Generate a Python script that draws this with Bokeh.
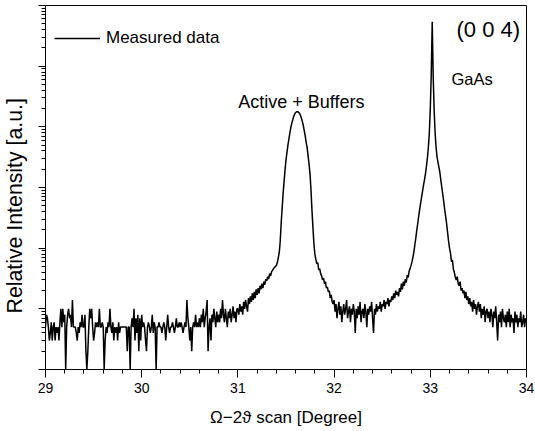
from bokeh.plotting import figure
from bokeh.models import Range1d, FixedTicker, SingleIntervalTicker, Label, CustomJSTickFormatter, Title
from bokeh.embed import file_html
from bokeh.resources import INLINE
import numpy as np

# ---- data: omega-2theta scan, 0.01 degree steps, intensities ----
step = 0.01

start_a = 29.00   # 29.00 .. 30.99  background
counts_a = [
    5, 8, 7, 5, 3, 4, 6, 3, 5, 6,
    3, 5, 4, 5, 3, 6, 10, 5, 10, 6,
    8, 1, 5, 8, 10, 7, 8, 5, 14, 5,
    5, 5, 4, 3, 5, 4, 6, 5, 8, 5,
    5, 8, 2, 1, 2, 5, 10, 7, 10, 5,
    3, 4, 6, 5, 6, 5, 10, 5, 5, 6,
    5, 1, 3, 5, 4, 6, 5, 10, 5, 4,
    6, 3, 5, 4, 5, 3, 6, 4, 5, 5,
    5, 5, 5, 5, 5, 2, 5, 5, 1, 5,
    7, 5, 10, 3, 7, 4, 8, 2, 7, 3,
    8, 5, 6, 5, 3, 2, 5, 6, 5, 4,
    5, 8, 4, 6, 5, 1, 5, 5, 6, 5,
    5, 4, 5, 6, 5, 3, 5, 8, 5, 4,
    5, 5, 6, 5, 4, 5, 7, 5, 5, 6,
    5, 6, 5, 4, 5, 6, 5, 14, 7, 5,
    3, 5, 2, 5, 6, 5, 8, 5, 6, 5,
    7, 5, 8, 6, 10, 5, 7, 9, 14, 2,
    5, 7, 3, 8, 6, 10, 7, 5, 9, 6,
    8, 6, 10, 7, 14, 8, 6, 10, 7, 5,
    9, 7, 10, 6, 8, 11, 7, 9, 6, 10,
]

start_b = 31.00   # 31.00 .. 32.00  active layers + buffers peak
counts_b = [
    10, 8, 12, 9, 11, 8, 13, 10, 14, 11,
    9, 15, 12, 16, 13, 18, 14, 19, 15, 21,
    17, 22, 18, 24, 21, 26, 22, 28, 25, 31,
    29, 34, 31, 38, 35, 41, 43, 46, 48, 50,
    52, 58, 70, 85, 130, 260, 460, 800, 1250, 1950,
    2850, 3800, 5000, 6300, 7900, 9700, 11400, 13000, 14800, 16200,
    17100, 17700, 17750, 17400, 16700, 15500, 14000, 12200, 10500, 8600,
    7000, 5500, 4500, 3300, 2400, 1650, 900, 420, 220, 120,
    80, 66, 55, 58, 44, 46, 38, 35, 30, 32,
    26, 28, 22, 23, 19, 20, 15, 17, 13, 12,
    14,
]

start_c = 32.01   # 32.01 .. 32.79  between the peaks
counts_c = [
    9, 12, 7, 10, 13, 8, 11, 6, 9, 12,
    8, 10, 14, 7, 9, 11, 6, 10, 8, 12,
    9, 4, 10, 7, 11, 8, 13, 6, 9, 10,
    7, 12, 9, 5, 10, 8, 11, 9, 13, 7,
    4, 10, 8, 12, 9, 11, 10, 13, 9, 12,
    11, 14, 10, 13, 12, 15, 11, 14, 13, 16,
    14, 18, 15, 20, 17, 19, 16, 22, 19, 26,
    21, 28, 24, 31, 27, 36, 33, 42, 46,
]

start_d = 32.80   # 32.80 .. 33.40  GaAs substrate peak
counts_d = [
    52, 60, 72, 88, 115, 150, 200, 260, 340, 440,
    560, 700, 880, 1100, 1350, 1700, 2250, 3100, 4600, 8000,
    20000, 75000, 540000, 70000, 19000, 8000, 4600, 3200, 2600, 2150,
    1750, 1300, 1000, 760, 580, 430, 330, 250, 180, 130,
    100, 83, 60, 64, 45, 40, 33, 30, 34, 26,
    24, 28, 20, 22, 18, 20, 15, 19, 14, 16,
    12,
]

start_e = 33.41   # 33.41 .. 34.00  right background
counts_e = [
    15, 11, 13, 9, 14, 10, 12, 8, 11, 13,
    9, 12, 7, 10, 8, 11, 6, 9, 10, 7,
    9, 6, 10, 8, 5, 9, 7, 11, 6, 3,
    8, 6, 9, 5, 10, 7, 6, 8, 5, 9,
    6, 10, 5, 8, 6, 7, 4, 9, 6, 8,
    5, 7, 6, 9, 5, 6, 8, 5, 7, 6,
]

legend_text = "Measured data"
peak_labels = ["Active + Buffers", "GaAs", "(0 0 4)"]
y_label = "Relative Intensity [a.u.]"
x_label = "Ω−2ϑ scan [Degree]"

segments = [(start_a, counts_a), (start_b, counts_b), (start_c, counts_c),
            (start_d, counts_d), (start_e, counts_e)]
angle = np.concatenate([s + step * np.arange(len(c)) for s, c in segments])
intensity = np.concatenate([np.asarray(c, dtype=float) for s, c in segments])

FONT = "Liberation Sans"

p = figure(width=535, height=431, output_backend="svg", toolbar_location=None,
           x_range=Range1d(29, 34), y_range=Range1d(1, 1e6), y_axis_type="log",
           min_border_left=44, min_border_right=9, min_border_top=5, min_border_bottom=62)

p.line(angle, intensity, line_color="black", line_width=1.5, legend_label=legend_text)

p.xgrid.visible = False
p.ygrid.visible = False
p.outline_line_color = "black"
p.outline_line_width = 1
p.background_fill_color = "white"
p.border_fill_color = "white"

# x axis
p.xaxis.ticker = SingleIntervalTicker(interval=1, num_minor_ticks=5)
p.xaxis.major_tick_out = 8
p.xaxis.major_tick_in = 0
p.xaxis.minor_tick_out = 4
p.xaxis.minor_tick_in = 0
p.xaxis.major_label_text_font = FONT
p.xaxis.major_label_text_font_size = "14px"
p.xaxis.major_label_text_color = "black"
p.xaxis.major_label_standoff = 5
p.xaxis.axis_label = x_label
p.xaxis.axis_label_text_font = FONT
p.xaxis.axis_label_text_font_style = "normal"
p.xaxis.axis_label_text_font_size = "17px"
p.xaxis.axis_label_text_color = "black"
p.xaxis.axis_label_standoff = 12
p.xaxis.axis_line_color = "black"
p.xaxis.major_tick_line_color = "black"
p.xaxis.minor_tick_line_color = "black"

# y axis (log, no numbers)
majors = [10.0 ** k for k in range(0, 7)]
minors = [m * 10.0 ** k for k in range(0, 6) for m in range(2, 10)]
p.yaxis.ticker = FixedTicker(ticks=majors, minor_ticks=minors)
p.yaxis.formatter = CustomJSTickFormatter(code="return ' '")
p.yaxis.major_tick_out = 7
p.yaxis.major_tick_in = 0
p.yaxis.minor_tick_out = 4
p.yaxis.minor_tick_in = 0
p.yaxis.major_label_text_font_size = "10px"
p.yaxis.major_label_standoff = 6
p.yaxis.axis_line_color = "black"
p.yaxis.major_tick_line_color = "black"
p.yaxis.minor_tick_line_color = "black"

# y axis title as a side title so that it can be shifted along the axis
p.add_layout(Title(text=y_label, align="left", offset=56, standoff=0,
                   vertical_align="bottom",
                   text_font=FONT, text_font_size="21.3px", text_font_style="normal",
                   text_color="black"), "left")

# legend
lg = p.legend[0]
lg.location = "top_left"
lg.margin = 9
lg.padding = 0
lg.glyph_width = 46
lg.glyph_height = 48
lg.label_height = 48
lg.label_standoff = 6
lg.label_text_font = FONT
lg.label_text_font_size = "17px"
lg.label_text_color = "black"
lg.border_line_alpha = 0
lg.background_fill_alpha = 0

# annotations (screen units relative to the plot frame, y upwards)
def add_label(text, x, y, size, font=FONT):
    p.add_layout(Label(x=x, y=y, x_units="screen", y_units="screen", text=text,
                       text_font=font, text_font_size=size, text_color="black",
                       text_baseline="alphabetic", text_align="left"))

add_label(peak_labels[0], 192.7, 267.3, "18px")
add_label(peak_labels[1], 406, 290.5, "16.5px")
add_label(peak_labels[2], 411, 340, "22px")

open("out.html", "w").write(file_html(p, INLINE))
